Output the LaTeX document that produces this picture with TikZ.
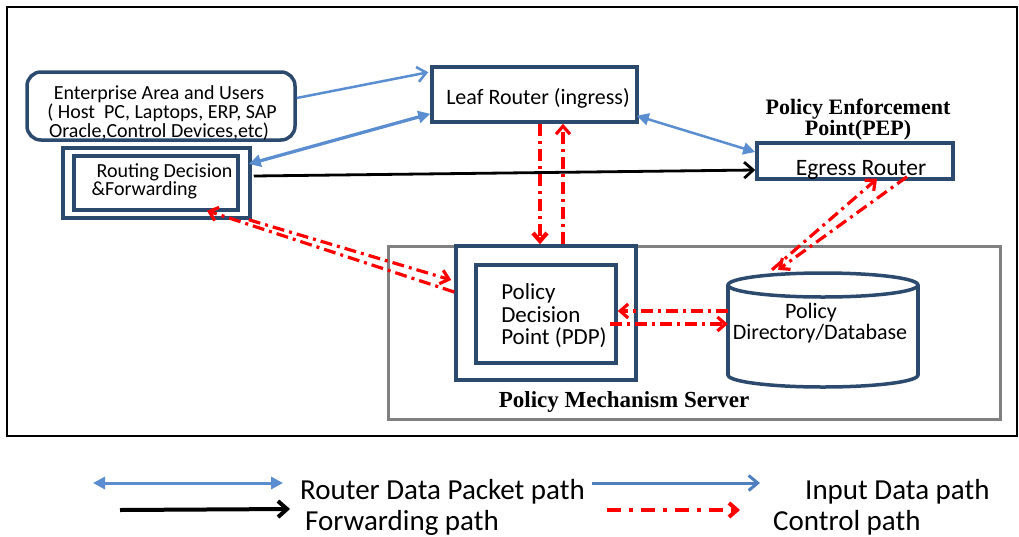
\documentclass[tikz,border=0pt]{standalone}
\usepackage{fontspec}
\setmainfont{Carlito}
\newfontfamily\serifb{Liberation Serif}
\usetikzlibrary{arrows.meta,calc}
\definecolor{navy}{HTML}{2C4A6E}
\definecolor{bluec}{HTML}{5A8ED0}
\definecolor{blued}{HTML}{4F7FBF}
\definecolor{grayc}{HTML}{808080}
\definecolor{redc}{HTML}{FF0000}
\begin{document}
\begin{tikzpicture}[x=1pt,y=-1pt,
  >={Straight Barb[length=8pt,width=14pt]},
  box/.style={draw=navy,line width=3.5pt,inner sep=0pt},
  txt/.style={inner sep=0pt,align=center},
  bluearr/.style={draw=bluec,line width=2.5pt,-{Straight Barb[length=9pt,width=15pt]}},
  bluedbl/.style={draw=bluec,fill=bluec,line width=2.5pt,{Triangle[length=12pt,width=12pt]}-{Triangle[length=12pt,width=12pt]}},
  fwd/.style={draw=black,line width=2.8pt,-{Straight Barb[length=9pt,width=16pt]}},
  ctrl/.style={draw=redc,line width=3.2pt,dash pattern=on 12pt off 5pt on 3pt off 5pt,-{Straight Barb[length=8pt,width=14pt]}},
  legtext/.style={anchor=base west,inner sep=0pt,font=\fontsize{29}{32}\selectfont}]
\useasboundingbox (0,0) rectangle (1019,536);
\fill[white] (0,0) rectangle (1019,536);
% outer frame
\node[draw=black,line width=1.2pt,minimum width=1010pt,minimum height=429pt,inner sep=0pt] (frame) at (512,221.5) {};
% policy mechanism server
\node[draw=grayc,line width=3pt,minimum width=612pt,minimum height=173pt,inner sep=0pt] (pms) at (694,332.5) {};
\node[txt,font=\serifb\bfseries\fontsize{23}{26}\selectfont] (pmstxt) at (624,402) {Policy Mechanism Server};
% enterprise
\node[box,rounded corners=14pt,minimum width=268pt,minimum height=68pt] (ent) at (161,106) {};
\node[txt,font=\fontsize{20}{16.5}\selectfont] (enttxt) at (159,113) {Enterprise Area and Users\\\hspace*{6pt}( Host\ \ PC, Laptops, ERP, SAP\\Oracle,Control Devices,etc)};
% leaf router
\node[box,minimum width=205pt,minimum height=55pt] (leaf) at (534.5,94.5) {};
\node[txt,font=\fontsize{22}{24}\selectfont] (leaftxt) at (538,98) {Leaf Router (ingress)};
% routing decision
\node[box,minimum width=187pt,minimum height=70pt] (rt) at (156.5,183) {};
\node[box,minimum width=164pt,minimum height=54pt] (rti) at (156,183) {};
\node[txt,align=left,font=\fontsize{20}{17}\selectfont] (rttxt) at (162,181) {\hspace*{5pt}Routing Decision\\\&Forwarding};
% egress
\node[box,minimum width=196pt,minimum height=36pt] (eg) at (855,161) {};
\node[txt,font=\fontsize{23.5}{26}\selectfont] (egtxt) at (861,170) {Egress Router};
\node[txt,font=\serifb\bfseries\fontsize{22}{19}\selectfont] (pep) at (858,120) {Policy Enforcement\\Point(PEP)};
% PDP
\node[box,minimum width=180pt,minimum height=134pt] (pdpo) at (546,313) {};
\node[box,minimum width=140pt,minimum height=98pt] (pdpi) at (546,314) {};
\node[txt,align=left,font=\fontsize{23}{22.5}\selectfont] (pdptxt) at (554,316) {Policy\\Decision\\Point (PDP)};
% database cylinder
\node[inner sep=0pt,minimum width=190pt,minimum height=114pt] (db) at (823,330) {};
\draw[navy,line width=3.5pt] (728,285) -- (728,375);
\draw[navy,line width=3.5pt] (918,285) -- (918,375);
\draw[navy,line width=3.5pt] (823,285) ellipse [x radius=95pt,y radius=12pt];
\begin{scope}
\clip (700,375) rectangle (940,400);
\draw[navy,line width=3.5pt] (823,375) ellipse [x radius=95pt,y radius=12pt];
\end{scope}
\node[txt,font=\fontsize{22}{21}\selectfont] (dbtxt) at (820,323) {\hspace*{-18pt}Policy\\Directory/Database};
% blue connectors
\draw[bluearr] ($(ent.east)+(0,-8)$) -- ($(leaf.north west)+(-2,7)$);
\draw[bluedbl,line width=3.3pt] ($(rt.east)+(-3,-19)$) -- ($(leaf.south west)+(0,-10)$);
\draw[bluedbl] ($(leaf.south east)+(-2,-8)$) -- ($(eg.west)+(0,-9)$);
% forwarding
\draw[fwd] ($(rt.east)+(2,-7)$) -- ($(eg.west)+(0,9)$);
% control paths
\draw[ctrl,line width=4.3pt] ($(leaf.south)+(5.5,0)$) -- ($(pdpo.north)+(-6,0)$);
\draw[ctrl] ($(pdpo.north)+(17,0)$) -- ($(leaf.south)+(28.5,0)$);
\draw[ctrl] ($(pdpo.west)+(0,-21)$) -- ($(rt.south)+(50.5,-9)$);
\draw[ctrl] ($(rt.south east)+(-3,0)$) -- ($(pdpo.west)+(-3,-33)$);
\draw[ctrl] ($(db.west)+(0,-19)$) -- ($(pdpi.east)+(0,-3)$);
\draw[ctrl] ($(pdpi.east)+(-8,10)$) -- ($(db.west)+(0,-6)$);
\draw[ctrl] ($(eg.south)+(52,-4)$) -- ($(db.north)+(-45,-3)$);
\draw[ctrl] ($(db.north)+(-51,-3)$) -- ($(eg.south)+(22,-2)$);
% legend
\coordinate (l1a) at (93,483);
\coordinate (l1b) at (283,483);
\draw[bluedbl,line width=3pt] (l1a) -- (l1b);
\node[legtext] (l1t) at (300,499) {Router Data Packet path};
\coordinate (l2a) at (592,483);
\coordinate (l2b) at (760,483);
\draw[bluearr,draw=blued,line width=3pt] (l2a) -- (l2b);
\node[legtext] (l2t) at (805,499) {Input Data path};
\coordinate (l3a) at (120,510);
\coordinate (l3b) at (290,509);
\draw[fwd,line width=4pt] (l3a) -- (l3b);
\node[legtext] (l3t) at (305,530) {Forwarding path};
\coordinate (l4a) at (607,510);
\coordinate (l4b) at (740,510);
\draw[ctrl,line width=4pt,dash pattern=on 14pt off 8pt on 4pt off 8pt] (l4a) -- (l4b);
\node[legtext] (l4t) at (773,530) {Control path};
\end{tikzpicture}
\end{document}
